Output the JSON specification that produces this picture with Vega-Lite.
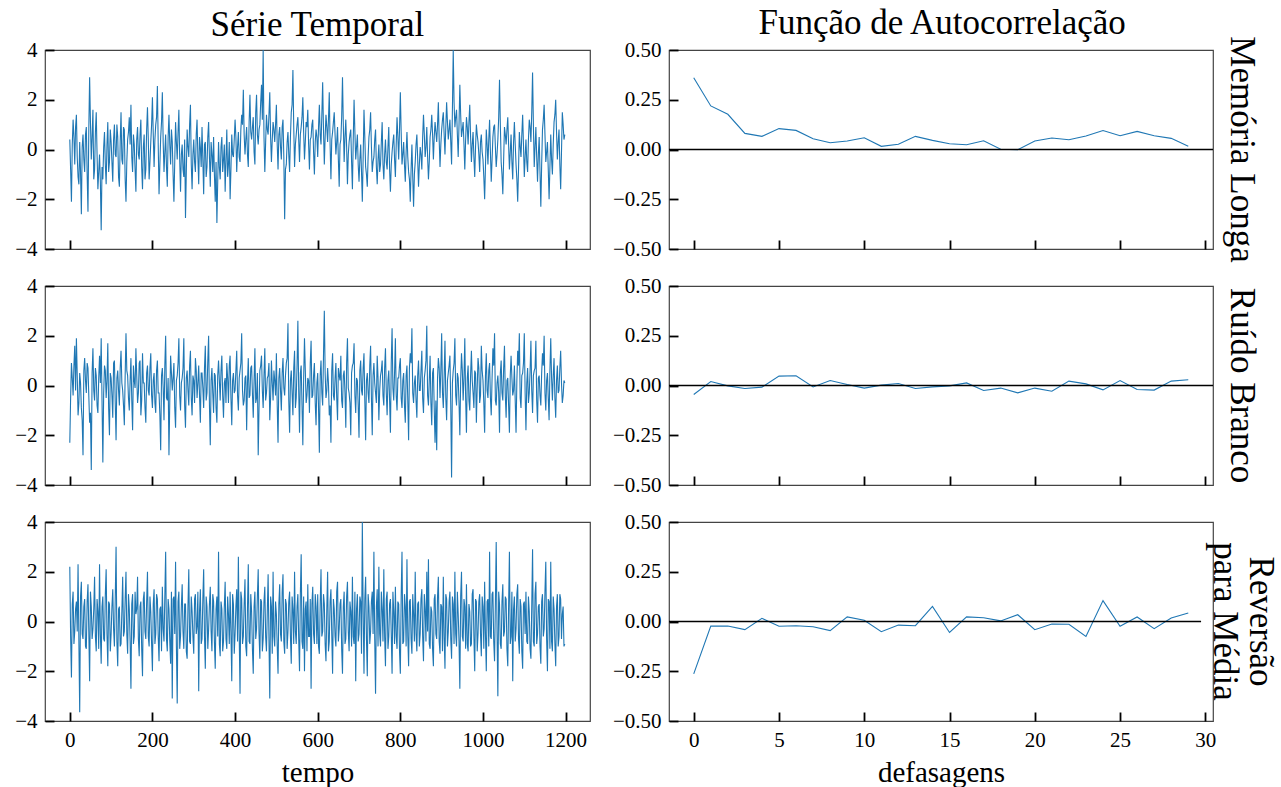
{
"$schema": "https://vega.github.io/schema/vega-lite/v6.json",
"background": "white",
"padding": {"left": 14, "top": 5, "right": 3, "bottom": 1},
"config": {
  "font": "Liberation Serif",
  "view": {"stroke": "#444", "strokeWidth": 1.2},
  "axis": {"domain": false, "grid": false, "ticks": true, "tickSize": -9, "tickWidth": 1.8, "tickColor": "black", "labelFont": "Liberation Serif", "labelFontSize": 21, "labelColor": "black", "labelPadding": 17, "labelFlush": false, "labelOverlap": false, "titleFont": "Liberation Serif", "titleFontSize": 29, "titleFontWeight": "normal", "titleColor": "black", "titlePadding": 8},
  "title": {"font": "Liberation Serif", "fontSize": 35, "fontWeight": "normal", "color": "black", "anchor": "middle"}
},
"datasets": {
"ts": [
{"t":0,"a":0.4,"b":-2.3,"c":2.2},{"t":4,"a":-2.1,"b":0.9,"c":-2.25},{"t":8,"a":1.2,"b":-0.4,"c":1.2},{"t":12,"a":-0.6,"b":1.6,"c":-0.4},{"t":16,"a":1.4,"b":1.9,"c":0.8},{"t":20,"a":-1.1,"b":-1.2,"c":2.3},{"t":24,"a":0.3,"b":0.5,"c":-3.65},{"t":28,"a":-2.6,"b":-0.9,"c":1.6},{"t":32,"a":0.6,"b":-2.8,"c":-0.7},{"t":36,"a":-0.9,"b":1.1,"c":0.9},
{"t":40,"a":0.9,"b":-0.3,"c":-1.1},{"t":44,"a":-2.5,"b":0.7,"c":1.5},{"t":48,"a":2.9,"b":-1.5,"c":-2.4},{"t":52,"a":-0.4,"b":-3.4,"c":0.6},{"t":56,"a":1.6,"b":1.5,"c":-0.3},{"t":60,"a":-0.8,"b":-0.6,"c":1.8},{"t":64,"a":1.5,"b":0.4,"c":-1.2},{"t":68,"a":-1.6,"b":-1.1,"c":0.4},{"t":72,"a":-0.2,"b":1.2,"c":2.3},{"t":76,"a":-3.25,"b":1.9,"c":-1.7},
{"t":80,"a":-1.2,"b":-3.1,"c":1.0},{"t":84,"a":0.7,"b":0.8,"c":-0.8},{"t":88,"a":-1.4,"b":-0.5,"c":2.1},{"t":92,"a":1.1,"b":1.7,"c":-1.8},{"t":96,"a":-0.5,"b":-2.0,"c":0.7},{"t":100,"a":0.3,"b":0.3,"c":-0.5},{"t":104,"a":-1.3,"b":-1.3,"c":1.3},{"t":108,"a":1.0,"b":1.0,"c":-1.0},{"t":112,"a":-0.3,"b":-2.2,"c":3.0},{"t":116,"a":0.5,"b":0.6,"c":-1.8},
{"t":120,"a":-1.5,"b":-0.8,"c":0.6},{"t":124,"a":1.5,"b":1.4,"c":-0.9},{"t":128,"a":-0.6,"b":-0.2,"c":1.8},{"t":132,"a":0.8,"b":-1.6,"c":-0.4},{"t":136,"a":-2.1,"b":2.1,"c":2.0},{"t":140,"a":0.4,"b":0.4,"c":-1.3},{"t":144,"a":1.3,"b":-1.0,"c":0.5},{"t":148,"a":1.8,"b":1.1,"c":-2.7},{"t":152,"a":-0.9,"b":-1.8,"c":1.1},{"t":156,"a":0.2,"b":0.2,"c":-0.6},
{"t":160,"a":-1.7,"b":1.5,"c":0.3},{"t":164,"a":0.9,"b":-0.7,"c":1.8},{"t":168,"a":-0.4,"b":0.9,"c":-1.4},{"t":172,"a":1.2,"b":-1.2,"c":0.8},{"t":176,"a":-1.6,"b":1.3,"c":-2.2},{"t":180,"a":0.6,"b":0.1,"c":1.2},{"t":184,"a":-0.8,"b":-1.5,"c":-0.7},{"t":188,"a":1.7,"b":0.8,"c":2.0},{"t":192,"a":-1.2,"b":-0.4,"c":-1.0},{"t":196,"a":0.3,"b":1.3,"c":0.4},
{"t":200,"a":2.1,"b":-0.9,"c":-2.0},{"t":204,"a":-0.7,"b":0.5,"c":1.3},{"t":208,"a":1.0,"b":-1.1,"c":-0.5},{"t":212,"a":2.55,"b":1.0,"c":0.9},{"t":216,"a":-1.8,"b":-0.3,"c":-1.6},{"t":220,"a":0.5,"b":-2.6,"c":0.6},{"t":224,"a":2.3,"b":0.7,"c":1.4},{"t":228,"a":-0.9,"b":-1.4,"c":-0.8},{"t":232,"a":0.6,"b":2.0,"c":2.8},{"t":236,"a":-1.5,"b":-0.6,"c":-1.2},
{"t":240,"a":1.4,"b":-2.8,"c":0.5},{"t":244,"a":-0.6,"b":1.2,"c":-1.7},{"t":248,"a":0.3,"b":-0.2,"c":-3.1},{"t":252,"a":-2.1,"b":0.9,"c":1.0},{"t":256,"a":1.1,"b":-1.7,"c":2.4},{"t":260,"a":-0.4,"b":0.4,"c":-3.3},{"t":264,"a":1.6,"b":1.9,"c":1.2},{"t":268,"a":-1.7,"b":-1.0,"c":-0.6},{"t":272,"a":0.2,"b":0.3,"c":1.5},{"t":276,"a":-1.1,"b":1.9,"c":-1.1},
{"t":280,"a":-2.75,"b":-1.7,"c":0.7},{"t":284,"a":0.8,"b":0.6,"c":-1.5},{"t":288,"a":-0.3,"b":-0.8,"c":2.1},{"t":292,"a":1.8,"b":1.4,"c":-0.9},{"t":296,"a":-1.6,"b":-1.2,"c":0.4},{"t":300,"a":0.4,"b":0.2,"c":-1.3},{"t":304,"a":-0.9,"b":1.1,"c":1.1},{"t":308,"a":1.2,"b":-0.5,"c":-0.2},{"t":312,"a":-1.4,"b":0.8,"c":-2.8},{"t":316,"a":0.1,"b":-1.5,"c":1.3},
{"t":320,"a":0.9,"b":0.5,"c":-0.7},{"t":324,"a":-1.8,"b":-0.9,"c":2.1},{"t":328,"a":0.3,"b":1.6,"c":-1.9},{"t":332,"a":-0.7,"b":-0.3,"c":0.6},{"t":336,"a":1.1,"b":2.0,"c":-0.3},{"t":340,"a":-1.5,"b":-2.4,"c":1.4},{"t":344,"a":-0.2,"b":0.7,"c":-1.2},{"t":348,"a":0.5,"b":-1.1,"c":0.8},{"t":352,"a":-2.1,"b":0.4,"c":-1.9},{"t":356,"a":-2.95,"b":-1.5,"c":1.0},
{"t":360,"a":0.3,"b":1.0,"c":2.8},{"t":364,"a":-1.2,"b":-0.6,"c":-1.4},{"t":368,"a":0.5,"b":1.2,"c":0.5},{"t":372,"a":-0.4,"b":-1.3,"c":-0.8},{"t":376,"a":-1.7,"b":0.3,"c":1.6},{"t":380,"a":0.8,"b":0.9,"c":-1.1},{"t":384,"a":-0.6,"b":-0.7,"c":0.3},{"t":388,"a":-2.0,"b":1.2,"c":1.2},{"t":392,"a":0.6,"b":-1.6,"c":-2.4},{"t":396,"a":-0.3,"b":0.5,"c":0.7},
{"t":400,"a":1.2,"b":-0.2,"c":-0.5},{"t":404,"a":-0.9,"b":1.4,"c":1.3},{"t":408,"a":0.7,"b":-1.0,"c":2.6},{"t":412,"a":-0.5,"b":0.6,"c":-2.9},{"t":416,"a":1.4,"b":2.1,"c":0.9},{"t":420,"a":2.4,"b":-0.8,"c":-0.6},{"t":424,"a":-0.2,"b":0.3,"c":1.7},{"t":428,"a":0.9,"b":-1.8,"c":-1.4},{"t":432,"a":-0.7,"b":1.1,"c":2.3},{"t":436,"a":2.2,"b":-0.4,"c":-0.9},
{"t":440,"a":0.4,"b":0.8,"c":0.4},{"t":444,"a":1.3,"b":-1.3,"c":-2.1},{"t":448,"a":-0.6,"b":1.5,"c":1.2},{"t":452,"a":2.2,"b":-0.5,"c":-0.3},{"t":456,"a":0.2,"b":-2.8,"c":2.1},{"t":460,"a":1.0,"b":0.6,"c":-1.5},{"t":464,"a":2.6,"b":1.2,"c":0.8},{"t":468,"a":4.0,"b":-0.9,"c":-0.7},{"t":472,"a":-0.9,"b":1.5,"c":1.4},{"t":476,"a":1.4,"b":-0.3,"c":-1.2},
{"t":480,"a":0.6,"b":0.4,"c":1.9},{"t":484,"a":2.3,"b":-1.4,"c":-3.1},{"t":488,"a":-0.5,"b":1.0,"c":0.6},{"t":492,"a":1.1,"b":-0.6,"c":2.0},{"t":496,"a":0.3,"b":0.2,"c":-1.0},{"t":500,"a":1.8,"b":1.3,"c":0.3},{"t":504,"a":-0.8,"b":-2.3,"c":-2.1},{"t":508,"a":0.9,"b":0.7,"c":1.5},{"t":512,"a":-0.4,"b":-1.0,"c":-0.8},{"t":516,"a":1.2,"b":1.1,"c":1.9},
{"t":520,"a":-2.8,"b":-0.4,"c":-1.3},{"t":524,"a":-0.6,"b":0.9,"c":0.7},{"t":528,"a":0.7,"b":2.5,"c":-0.4},{"t":532,"a":-0.9,"b":-1.9,"c":1.2},{"t":536,"a":1.5,"b":0.6,"c":-1.7},{"t":540,"a":3.2,"b":-1.2,"c":0.5},{"t":544,"a":-0.7,"b":1.4,"c":2.0},{"t":548,"a":0.6,"b":-0.5,"c":-0.9},{"t":552,"a":1.3,"b":2.6,"c":1.1},{"t":556,"a":-0.5,"b":-1.9,"c":-2.0},
{"t":560,"a":0.9,"b":0.8,"c":2.7},{"t":564,"a":2.1,"b":-2.4,"c":-1.1},{"t":568,"a":-0.4,"b":1.9,"c":-2.0},{"t":572,"a":1.1,"b":-0.7,"c":0.8},{"t":576,"a":1.6,"b":0.3,"c":1.5},{"t":580,"a":-0.8,"b":-1.1,"c":-0.6},{"t":584,"a":0.5,"b":1.8,"c":-2.7},{"t":588,"a":1.2,"b":-0.4,"c":1.4},{"t":592,"a":-1.0,"b":0.9,"c":-0.9},{"t":596,"a":0.8,"b":-1.6,"c":0.6},
{"t":600,"a":-0.3,"b":0.5,"c":1.1},{"t":604,"a":1.8,"b":-2.7,"c":-1.3},{"t":608,"a":0.2,"b":1.0,"c":2.1},{"t":612,"a":2.7,"b":-0.8,"c":-0.4},{"t":616,"a":-0.6,"b":3.0,"c":0.7},{"t":620,"a":1.4,"b":-0.5,"c":-1.6},{"t":624,"a":0.3,"b":0.7,"c":2.0},{"t":628,"a":2.3,"b":-1.2,"c":-0.8},{"t":632,"a":-1.2,"b":-2.3,"c":1.3},{"t":636,"a":0.7,"b":1.3,"c":-2.1},
{"t":640,"a":1.5,"b":-0.6,"c":0.5},{"t":644,"a":-0.2,"b":0.9,"c":-1.0},{"t":648,"a":0.9,"b":-1.4,"c":1.6},{"t":652,"a":-1.5,"b":0.4,"c":-0.3},{"t":656,"a":0.4,"b":1.2,"c":0.9},{"t":660,"a":2.9,"b":-0.9,"c":-2.1},{"t":664,"a":-0.5,"b":0.6,"c":1.2},{"t":668,"a":1.2,"b":-1.7,"c":-0.7},{"t":672,"a":-1.4,"b":1.9,"c":1.6},{"t":676,"a":0.3,"b":-0.3,"c":-1.2},
{"t":680,"a":0.8,"b":-2.0,"c":0.4},{"t":684,"a":-1.6,"b":0.8,"c":1.8},{"t":688,"a":2.0,"b":1.7,"c":-0.9},{"t":692,"a":-0.4,"b":-1.1,"c":-2.4},{"t":696,"a":0.6,"b":0.2,"c":1.1},{"t":700,"a":-1.3,"b":-2.1,"c":-0.5},{"t":704,"a":0.2,"b":1.0,"c":0.8},{"t":708,"a":-2.1,"b":-0.4,"c":4.0},{"t":712,"a":1.6,"b":1.3,"c":-2.1},{"t":716,"a":-0.7,"b":-2.2,"c":1.8},
{"t":720,"a":-1.5,"b":0.5,"c":-2.2},{"t":724,"a":0.5,"b":-0.7,"c":0.6},{"t":728,"a":1.5,"b":1.6,"c":-0.4},{"t":732,"a":-0.9,"b":-2.0,"c":1.2},{"t":736,"a":-0.3,"b":0.9,"c":2.8},{"t":740,"a":0.8,"b":-0.3,"c":-2.9},{"t":744,"a":-1.4,"b":1.2,"c":1.3},{"t":748,"a":0.2,"b":-1.4,"c":2.2},{"t":752,"a":-0.6,"b":0.4,"c":-1.0},{"t":756,"a":1.1,"b":1.0,"c":0.5},
{"t":760,"a":-1.2,"b":-0.8,"c":2.1},{"t":764,"a":0.4,"b":1.5,"c":-1.8},{"t":768,"a":-0.8,"b":-1.2,"c":1.2},{"t":772,"a":0.9,"b":0.6,"c":-0.6},{"t":776,"a":-1.7,"b":-1.9,"c":0.9},{"t":780,"a":-0.1,"b":2.3,"c":-2.1},{"t":784,"a":0.6,"b":-0.6,"c":0.4},{"t":788,"a":-1.1,"b":1.9,"c":1.4},{"t":792,"a":1.3,"b":-1.0,"c":-1.1},{"t":796,"a":-0.4,"b":0.3,"c":0.7},
{"t":800,"a":2.3,"b":1.1,"c":-2.1},{"t":804,"a":-0.6,"b":-0.9,"c":2.8},{"t":808,"a":0.3,"b":0.5,"c":-0.8},{"t":812,"a":-1.3,"b":-1.5,"c":0.6},{"t":816,"a":0.7,"b":0.8,"c":2.5},{"t":820,"a":-0.9,"b":-2.2,"c":-1.8},{"t":824,"a":-2.1,"b":1.3,"c":0.9},{"t":828,"a":0.2,"b":2.3,"c":-1.3},{"t":832,"a":-2.3,"b":-0.7,"c":0.3},{"t":836,"a":-0.5,"b":0.4,"c":2.0},
{"t":840,"a":0.6,"b":-1.3,"c":-1.2},{"t":844,"a":-1.5,"b":1.0,"c":0.8},{"t":848,"a":0.1,"b":-0.2,"c":-0.5},{"t":852,"a":-0.8,"b":1.4,"c":1.3},{"t":856,"a":1.4,"b":-1.1,"c":-1.6},{"t":860,"a":-0.3,"b":0.6,"c":0.5},{"t":864,"a":0.9,"b":2.4,"c":2.0},{"t":868,"a":-1.2,"b":-0.8,"c":2.5},{"t":872,"a":0.5,"b":1.2,"c":-1.1},{"t":876,"a":1.4,"b":-1.6,"c":0.4},
{"t":880,"a":-0.4,"b":0.7,"c":-1.8},{"t":884,"a":1.1,"b":-2.3,"c":1.1},{"t":888,"a":0.3,"b":-2.6,"c":-0.7},{"t":892,"a":1.9,"b":1.1,"c":1.8},{"t":896,"a":-0.7,"b":-0.5,"c":-1.3},{"t":900,"a":0.8,"b":2.1,"c":0.6},{"t":904,"a":1.5,"b":-0.9,"c":1.8},{"t":908,"a":-0.2,"b":1.8,"c":-1.9},{"t":912,"a":1.9,"b":-1.4,"c":0.9},{"t":916,"a":0.4,"b":0.5,"c":-0.4},
{"t":920,"a":1.2,"b":1.2,"c":1.2},{"t":924,"a":-0.6,"b":-3.7,"c":-1.5},{"t":928,"a":4.0,"b":0.6,"c":0.7},{"t":932,"a":0.9,"b":1.9,"c":2.0},{"t":936,"a":1.6,"b":-0.8,"c":-1.0},{"t":940,"a":-0.3,"b":0.3,"c":0.3},{"t":944,"a":2.6,"b":-2.0,"c":-2.7},{"t":948,"a":0.5,"b":1.3,"c":2.0},{"t":952,"a":1.1,"b":-0.6,"c":-0.8},{"t":956,"a":-0.8,"b":1.9,"c":0.6},
{"t":960,"a":1.3,"b":-1.9,"c":1.5},{"t":964,"a":0.2,"b":0.8,"c":-1.2},{"t":968,"a":1.8,"b":-1.0,"c":0.4},{"t":972,"a":-0.5,"b":1.4,"c":-0.9},{"t":976,"a":0.7,"b":-0.3,"c":1.3},{"t":980,"a":-1.1,"b":0.6,"c":-2.0},{"t":984,"a":1.0,"b":-1.5,"c":0.8},{"t":988,"a":0.3,"b":1.1,"c":-0.5},{"t":992,"a":-0.9,"b":-0.7,"c":1.1},{"t":996,"a":0.6,"b":1.6,"c":-1.4},
{"t":1000,"a":-0.4,"b":0.2,"c":0.6},{"t":1004,"a":-2.0,"b":-1.9,"c":1.6},{"t":1008,"a":0.8,"b":1.3,"c":-2.0},{"t":1012,"a":-0.6,"b":-0.5,"c":0.9},{"t":1016,"a":1.2,"b":0.9,"c":2.8},{"t":1020,"a":-1.3,"b":-1.2,"c":-0.7},{"t":1024,"a":0.5,"b":1.5,"c":1.2},{"t":1028,"a":1.0,"b":2.1,"c":-1.6},{"t":1032,"a":-0.7,"b":-0.8,"c":3.2},{"t":1036,"a":0.4,"b":0.4,"c":-3.0},
{"t":1040,"a":2.8,"b":-1.9,"c":0.7},{"t":1044,"a":-0.5,"b":1.0,"c":-1.1},{"t":1048,"a":-1.8,"b":-0.6,"c":1.5},{"t":1052,"a":0.9,"b":1.6,"c":-0.4},{"t":1056,"a":0.2,"b":-1.3,"c":0.9},{"t":1060,"a":1.3,"b":0.3,"c":-1.8},{"t":1064,"a":-0.8,"b":-1.9,"c":2.8},{"t":1068,"a":0.6,"b":1.2,"c":-0.6},{"t":1072,"a":-1.2,"b":-0.4,"c":-2.4},{"t":1076,"a":1.1,"b":0.8,"c":1.0},
{"t":1080,"a":-0.6,"b":-1.9,"c":-0.3},{"t":1084,"a":-2.1,"b":1.4,"c":1.5},{"t":1088,"a":0.7,"b":2.1,"c":-1.3},{"t":1092,"a":-0.3,"b":-0.9,"c":0.6},{"t":1096,"a":1.4,"b":0.5,"c":-1.9},{"t":1100,"a":-1.1,"b":2.1,"c":0.8},{"t":1104,"a":0.4,"b":-1.8,"c":1.2},{"t":1108,"a":-0.9,"b":0.7,"c":-0.9},{"t":1112,"a":1.2,"b":-0.3,"c":0.4},{"t":1116,"a":0.3,"b":1.8,"c":-1.5},
{"t":1120,"a":3.1,"b":-1.1,"c":2.9},{"t":1124,"a":-0.7,"b":0.6,"c":-1.0},{"t":1128,"a":0.9,"b":1.8,"c":1.6},{"t":1132,"a":-1.3,"b":-1.5,"c":-0.5},{"t":1136,"a":0.5,"b":0.4,"c":0.7},{"t":1140,"a":-2.3,"b":-0.8,"c":-1.7},{"t":1144,"a":0.8,"b":1.3,"c":1.1},{"t":1148,"a":1.8,"b":2.0,"c":-0.3},{"t":1152,"a":-0.5,"b":-1.0,"c":2.4},{"t":1156,"a":0.3,"b":0.5,"c":-2.0},
{"t":1160,"a":-2.0,"b":-1.4,"c":0.8},{"t":1164,"a":0.6,"b":1.9,"c":2.4},{"t":1168,"a":-1.0,"b":-0.6,"c":-1.2},{"t":1172,"a":1.1,"b":1.1,"c":0.5},{"t":1176,"a":2.0,"b":-1.3,"c":-1.8},{"t":1180,"a":-0.4,"b":0.8,"c":1.1},{"t":1184,"a":0.8,"b":-0.2,"c":-0.6},{"t":1188,"a":-1.6,"b":1.4,"c":0.9},{"t":1192,"a":1.5,"b":-0.7,"c":0.3},{"t":1196,"a":0.4,"b":0.2,"c":-1.0},
{"t":2,"a":-0.8,"b":-0.5,"c":-0.6},{"t":6,"a":0.2,"b":0.3,"c":0.7},{"t":10,"a":0.5,"b":0.8,"c":-0.9},{"t":14,"a":0.9,"b":-0.2,"c":0.5},{"t":18,"a":-0.3,"b":0.4,"c":-0.4},{"t":22,"a":-1.4,"b":-0.7,"c":-0.8},{"t":26,"a":-0.9,"b":0.1,"c":1.0},{"t":30,"a":0.1,"b":-1.4,"c":-0.5},{"t":34,"a":-0.4,"b":0.6,"c":0.6},{"t":38,"a":0.6,"b":0.2,"c":-1.0},
{"t":42,"a":-1.0,"b":0.9,"c":0.8},{"t":46,"a":0.8,"b":-0.4,"c":-0.4},{"t":50,"a":1.1,"b":-1.1,"c":1.2},{"t":54,"a":0.5,"b":0.5,"c":-0.7},{"t":58,"a":-1.2,"b":-0.2,"c":0.5},{"t":62,"a":0.7,"b":0.7,"c":-0.6},{"t":66,"a":-0.2,"b":-0.8,"c":0.9},{"t":70,"a":-0.9,"b":0.3,"c":-1.1},{"t":74,"a":-1.3,"b":0.1,"c":-0.5},{"t":78,"a":-0.7,"b":-0.6,"c":0.6},
{"t":82,"a":0.1,"b":-0.3,"c":-0.7},{"t":86,"a":-0.6,"b":0.6,"c":1.1},{"t":90,"a":0.2,"b":0.2,"c":-0.5},{"t":94,"a":-0.9,"b":-0.9,"c":0.8},{"t":98,"a":0.8,"b":0.5,"c":-1.2},{"t":102,"a":-0.5,"b":-0.4,"c":0.6},{"t":106,"a":0.4,"b":0.9,"c":-0.3},{"t":110,"a":-0.2,"b":-0.7,"c":0.9},{"t":114,"a":1.0,"b":0.3,"c":-0.8},{"t":118,"a":-1.1,"b":-0.2,"c":0.5},
{"t":122,"a":0.3,"b":0.7,"c":-1.0},{"t":126,"a":-0.4,"b":0.1,"c":0.4},{"t":130,"a":0.9,"b":-0.8,"c":-0.6},{"t":134,"a":-1.2,"b":0.4,"c":0.9},{"t":138,"a":-0.5,"b":0.6,"c":-0.5},{"t":142,"a":0.7,"b":-0.5,"c":1.1},{"t":146,"a":0.2,"b":0.2,"c":-0.8},{"t":150,"a":-0.3,"b":-0.6,"c":0.7},{"t":154,"a":0.6,"b":0.8,"c":-0.9},{"t":158,"a":-0.8,"b":-0.1,"c":1.2},
{"t":162,"a":0.4,"b":0.4,"c":0.5},{"t":166,"a":-0.2,"b":-0.3,"c":-0.7},{"t":170,"a":0.6,"b":1.0,"c":0.6},{"t":174,"a":-0.7,"b":-0.6,"c":-1.1},{"t":178,"a":0.1,"b":0.1,"c":0.9},{"t":182,"a":-1.2,"b":-0.9,"c":-0.4},{"t":186,"a":0.8,"b":0.5,"c":0.8},{"t":190,"a":0.4,"b":-0.2,"c":-0.6},{"t":194,"a":-0.5,"b":0.7,"c":1.0},{"t":198,"a":1.0,"b":-0.4,"c":-0.9},
{"t":202,"a":0.6,"b":0.2,"c":0.7},{"t":206,"a":0.4,"b":-0.7,"c":-0.9},{"t":210,"a":1.3,"b":0.6,"c":1.1},{"t":214,"a":0.2,"b":-0.3,"c":-0.6},{"t":218,"a":-0.6,"b":-1.2,"c":0.5},{"t":222,"a":1.1,"b":0.4,"c":-1.2},{"t":226,"a":0.3,"b":-0.1,"c":-0.3},{"t":230,"a":-0.1,"b":0.8,"c":1.0},{"t":234,"a":-0.7,"b":-0.5,"c":-0.7},{"t":238,"a":0.5,"b":0.3,"c":0.9},
{"t":242,"a":0.2,"b":-0.6,"c":-0.8},{"t":246,"a":0.8,"b":0.5,"c":1.2},{"t":250,"a":-1.0,"b":0.3,"c":0.9},{"t":254,"a":-0.5,"b":-0.9,"c":-0.5},{"t":258,"a":0.3,"b":0.2,"c":-1.0},{"t":262,"a":0.7,"b":0.9,"c":0.8},{"t":266,"a":-0.4,"b":-0.4,"c":-1.1},{"t":270,"a":-0.2,"b":0.1,"c":0.6},{"t":274,"a":-0.8,"b":0.7,"c":-0.4},{"t":278,"a":0.4,"b":-0.8,"c":0.7},
{"t":282,"a":-0.9,"b":0.3,"c":-1.2},{"t":286,"a":0.1,"b":-0.2,"c":0.6},{"t":290,"a":1.0,"b":0.8,"c":-0.8},{"t":294,"a":-0.6,"b":-0.5,"c":1.0},{"t":298,"a":-0.2,"b":0.4,"c":-0.6},{"t":302,"a":-0.5,"b":-0.7,"c":0.9},{"t":306,"a":0.6,"b":0.6,"c":-0.5},{"t":310,"a":-0.3,"b":0.1,"c":1.2},{"t":314,"a":0.5,"b":-0.4,"c":0.4},{"t":318,"a":-0.7,"b":0.5,"c":-0.9},
{"t":322,"a":-0.4,"b":-0.1,"c":0.9},{"t":326,"a":0.2,"b":0.7,"c":-0.6},{"t":330,"a":-1.1,"b":-0.6,"c":1.0},{"t":334,"a":0.5,"b":1.0,"c":-1.1},{"t":338,"a":-0.3,"b":-0.8,"c":0.7},{"t":342,"a":0.3,"b":0.2,"c":-0.4},{"t":346,"a":-0.9,"b":-0.3,"c":1.1},{"t":350,"a":-1.0,"b":0.5,"c":-0.8},{"t":354,"a":-0.5,"b":-0.9,"c":0.5},{"t":358,"a":-1.3,"b":0.4,"c":-0.6},
{"t":362,"a":-0.7,"b":0.2,"c":-0.9},{"t":366,"a":0.1,"b":0.6,"c":0.8},{"t":370,"a":-0.9,"b":-0.4,"c":-1.2},{"t":374,"a":0.2,"b":0.1,"c":0.6},{"t":378,"a":-0.4,"b":-0.7,"c":-0.7},{"t":382,"a":-1.1,"b":0.3,"c":1.0},{"t":386,"a":0.3,"b":0.8,"c":-0.9},{"t":390,"a":-0.8,"b":-0.5,"c":-0.4},{"t":394,"a":-0.2,"b":0.2,"c":1.1},{"t":398,"a":0.4,"b":-0.3,"c":-1.3},
{"t":402,"a":0.5,"b":0.6,"c":0.6},{"t":406,"a":0.1,"b":-0.4,"c":-0.8},{"t":410,"a":-0.3,"b":0.3,"c":-0.5},{"t":414,"a":0.8,"b":0.9,"c":1.2},{"t":418,"a":1.0,"b":-0.2,"c":-0.9},{"t":422,"a":0.6,"b":-0.6,"c":0.7},{"t":426,"a":0.4,"b":0.4,"c":-1.0},{"t":430,"a":-0.2,"b":0.1,"c":0.5},{"t":434,"a":1.1,"b":-0.5,"c":-0.8},{"t":438,"a":0.7,"b":0.7,"c":1.1},
{"t":442,"a":0.9,"b":-0.3,"c":-1.1},{"t":446,"a":-0.1,"b":0.2,"c":0.6},{"t":450,"a":1.5,"b":-0.7,"c":-0.7},{"t":454,"a":0.6,"b":0.5,"c":1.0},{"t":458,"a":0.8,"b":-0.9,"c":-0.5},{"t":462,"a":1.9,"b":0.8,"c":0.9},{"t":466,"a":1.2,"b":-0.2,"c":-1.2},{"t":470,"a":0.5,"b":0.4,"c":0.8},{"t":474,"a":0.3,"b":-0.6,"c":-0.6},{"t":478,"a":0.8,"b":0.3,"c":0.4},
{"t":482,"a":1.4,"b":0.9,"c":-0.7},{"t":486,"a":0.5,"b":-0.5,"c":1.0},{"t":490,"a":0.4,"b":0.1,"c":-1.3},{"t":494,"a":0.8,"b":0.6,"c":-0.6},{"t":498,"a":1.0,"b":-0.4,"c":0.8},{"t":502,"a":0.2,"b":-0.8,"c":-1.0},{"t":506,"a":0.6,"b":0.3,"c":0.7},{"t":510,"a":0.1,"b":-0.2,"c":-0.5},{"t":514,"a":0.9,"b":0.5,"c":1.2},{"t":518,"a":-0.3,"b":-0.1,"c":-0.8},
{"t":522,"a":-0.8,"b":0.4,"c":0.9},{"t":526,"a":0.3,"b":1.1,"c":-1.1},{"t":530,"a":-0.2,"b":-0.6,"c":0.8},{"t":534,"a":0.5,"b":0.2,"c":-0.6},{"t":538,"a":1.8,"b":-0.3,"c":1.0},{"t":542,"a":0.9,"b":0.7,"c":-0.9},{"t":546,"a":0.2,"b":-0.9,"c":-0.4},{"t":550,"a":1.0,"b":0.8,"c":0.6},{"t":554,"a":0.4,"b":-0.2,"c":-0.7},{"t":558,"a":0.6,"b":0.5,"c":1.1},
{"t":562,"a":1.3,"b":-0.8,"c":-0.8},{"t":566,"a":0.7,"b":0.3,"c":1.0},{"t":570,"a":0.3,"b":0.6,"c":0.5},{"t":574,"a":0.9,"b":-0.4,"c":-1.2},{"t":578,"a":0.2,"b":0.2,"c":-0.6},{"t":582,"a":0.4,"b":0.9,"c":0.9},{"t":586,"a":1.0,"b":-0.5,"c":0.7},{"t":590,"a":-0.1,"b":0.4,"c":-0.5},{"t":594,"a":0.3,"b":-0.7,"c":1.1},{"t":598,"a":0.5,"b":0.1,"c":-0.9},
{"t":602,"a":0.9,"b":-0.9,"c":-1.0},{"t":606,"a":0.6,"b":0.4,"c":0.7},{"t":610,"a":1.4,"b":-0.3,"c":-0.6},{"t":614,"a":0.8,"b":1.2,"c":1.1},{"t":618,"a":0.5,"b":0.5,"c":-0.9},{"t":622,"a":0.9,"b":-0.2,"c":0.5},{"t":626,"a":1.2,"b":0.1,"c":-1.2},{"t":630,"a":0.2,"b":-0.8,"c":0.8},{"t":634,"a":0.4,"b":0.6,"c":-0.5},{"t":638,"a":1.1,"b":-0.4,"c":0.9},
{"t":642,"a":0.6,"b":0.3,"c":-0.6},{"t":646,"a":0.3,"b":-0.5,"c":1.2},{"t":650,"a":-0.4,"b":0.7,"c":-0.8},{"t":654,"a":0.2,"b":0.2,"c":0.7},{"t":658,"a":1.3,"b":-0.6,"c":-1.1},{"t":662,"a":1.0,"b":0.4,"c":0.6},{"t":666,"a":0.5,"b":-0.3,"c":-0.9},{"t":670,"a":0.1,"b":0.9,"c":1.0},{"t":674,"a":-0.2,"b":-0.1,"c":-0.4},{"t":678,"a":0.6,"b":-0.7,"c":0.8},
{"t":682,"a":-0.5,"b":0.5,"c":-1.0},{"t":686,"a":0.4,"b":0.9,"c":-0.6},{"t":690,"a":0.7,"b":-0.4,"c":1.2},{"t":694,"a":0.1,"b":0.3,"c":0.5},{"t":698,"a":-0.6,"b":-0.8,"c":-0.8},{"t":702,"a":-0.4,"b":0.6,"c":1.0},{"t":706,"a":-0.9,"b":-0.2,"c":-1.3},{"t":710,"a":-0.3,"b":0.7,"c":0.4},{"t":714,"a":0.5,"b":-0.6,"c":0.9},{"t":718,"a":-1.0,"b":0.2,"c":-0.7},
{"t":722,"a":-0.3,"b":-0.3,"c":1.1},{"t":726,"a":0.8,"b":0.8,"c":-0.9},{"t":730,"a":0.1,"b":-0.5,"c":0.8},{"t":734,"a":-0.5,"b":0.4,"c":-0.5},{"t":738,"a":0.4,"b":0.1,"c":-0.7},{"t":742,"a":-0.7,"b":-0.7,"c":0.6},{"t":746,"a":-0.4,"b":0.3,"c":-1.0},{"t":750,"a":-0.9,"b":-0.2,"c":-0.5},{"t":754,"a":0.3,"b":0.6,"c":1.2},{"t":758,"a":-0.6,"b":-0.4,"c":-0.8},
{"t":762,"a":-0.2,"b":0.7,"c":-0.6},{"t":766,"a":-0.5,"b":-0.3,"c":0.9},{"t":770,"a":0.1,"b":0.2,"c":-1.1},{"t":774,"a":-0.8,"b":-0.6,"c":0.7},{"t":778,"a":-0.6,"b":0.9,"c":-0.5},{"t":782,"a":0.3,"b":-0.1,"c":1.2},{"t":786,"a":-0.4,"b":0.5,"c":-0.9},{"t":790,"a":0.2,"b":-0.4,"c":-0.6},{"t":794,"a":0.5,"b":0.3,"c":0.8},{"t":798,"a":0.8,"b":0.8,"c":-1.2},
{"t":802,"a":0.7,"b":-0.5,"c":1.0},{"t":806,"a":-0.2,"b":0.2,"c":-0.9},{"t":810,"a":-0.6,"b":-0.8,"c":1.1},{"t":814,"a":-0.1,"b":0.4,"c":-1.0},{"t":818,"a":-0.3,"b":-0.6,"c":-0.6},{"t":822,"a":-1.2,"b":0.7,"c":0.8},{"t":826,"a":-0.8,"b":0.9,"c":-0.7},{"t":830,"a":-1.1,"b":-0.3,"c":1.1},{"t":834,"a":-1.0,"b":0.1,"c":-0.8},{"t":838,"a":0.2,"b":-0.6,"c":-0.5},
{"t":842,"a":-0.4,"b":0.4,"c":0.7},{"t":846,"a":-0.6,"b":-0.2,"c":-1.0},{"t":850,"a":-0.2,"b":0.6,"c":0.9},{"t":854,"a":0.5,"b":-0.5,"c":-0.6},{"t":858,"a":0.6,"b":0.3,"c":1.1},{"t":862,"a":0.1,"b":1.0,"c":-0.8},{"t":866,"a":-0.3,"b":-0.4,"c":-0.4},{"t":870,"a":-0.5,"b":0.2,"c":-0.9},{"t":874,"a":0.8,"b":-0.7,"c":0.6},{"t":878,"a":0.6,"b":0.5,"c":-1.1},
{"t":882,"a":0.5,"b":-0.9,"c":0.9},{"t":886,"a":0.7,"b":-0.6,"c":-0.5},{"t":890,"a":1.0,"b":0.3,"c":1.0},{"t":894,"a":0.4,"b":0.7,"c":-0.8},{"t":898,"a":0.2,"b":0.6,"c":0.7},{"t":902,"a":1.2,"b":-0.3,"c":-1.2},{"t":906,"a":0.6,"b":0.4,"c":-0.6},{"t":910,"a":0.9,"b":-0.5,"c":1.1},{"t":914,"a":1.1,"b":0.2,"c":-1.0},{"t":918,"a":0.8,"b":0.8,"c":0.8},
{"t":922,"a":0.3,"b":-0.8,"c":-0.7},{"t":926,"a":1.6,"b":0.1,"c":1.0},{"t":930,"a":1.9,"b":0.9,"c":-0.9},{"t":934,"a":1.3,"b":-0.4,"c":-0.5},{"t":938,"a":0.6,"b":0.5,"c":1.2},{"t":942,"a":1.0,"b":-0.7,"c":-0.8},{"t":946,"a":1.4,"b":0.2,"c":1.0},{"t":950,"a":0.8,"b":0.6,"c":-0.6},{"t":954,"a":0.2,"b":0.3,"c":0.9},{"t":958,"a":0.4,"b":-0.5,"c":-1.1},
{"t":962,"a":0.9,"b":0.3,"c":-0.9},{"t":966,"a":1.1,"b":-0.6,"c":0.7},{"t":970,"a":0.5,"b":0.4,"c":-1.0},{"t":974,"a":0.2,"b":0.2,"c":1.1},{"t":978,"a":-0.3,"b":-0.9,"c":-0.6},{"t":982,"a":0.1,"b":0.5,"c":0.9},{"t":986,"a":0.6,"b":-0.1,"c":-1.2},{"t":990,"a":-0.2,"b":0.7,"c":0.8},{"t":994,"a":0.3,"b":-0.4,"c":-0.5},{"t":998,"a":-0.1,"b":0.6,"c":1.0},
{"t":1002,"a":-1.1,"b":-0.7,"c":-1.1},{"t":1006,"a":-0.7,"b":0.4,"c":-0.5},{"t":1010,"a":0.2,"b":-0.2,"c":0.8},{"t":1014,"a":0.4,"b":0.6,"c":-1.0},{"t":1018,"a":-0.1,"b":-0.5,"c":-0.6},{"t":1022,"a":-0.4,"b":0.3,"c":1.1},{"t":1026,"a":0.9,"b":0.8,"c":-0.8},{"t":1030,"a":0.1,"b":-0.6,"c":0.7},{"t":1034,"a":-0.2,"b":0.1,"c":-0.4},{"t":1038,"a":1.3,"b":-0.3,"c":1.2},
{"t":1042,"a":1.0,"b":0.5,"c":-0.9},{"t":1046,"a":-1.0,"b":-0.3,"c":0.8},{"t":1050,"a":-0.4,"b":0.7,"c":-0.6},{"t":1054,"a":0.6,"b":-0.4,"c":1.0},{"t":1058,"a":0.8,"b":0.2,"c":-1.1},{"t":1062,"a":0.2,"b":-0.8,"c":0.6},{"t":1066,"a":-0.1,"b":0.4,"c":-0.9},{"t":1070,"a":-0.5,"b":0.3,"c":1.2},{"t":1074,"a":0.3,"b":-0.2,"c":0.5},{"t":1078,"a":0.2,"b":-0.6,"c":-0.8},
{"t":1082,"a":-1.2,"b":0.2,"c":1.1},{"t":1086,"a":-0.8,"b":0.8,"c":-0.7},{"t":1090,"a":0.1,"b":-0.5,"c":0.9},{"t":1094,"a":0.6,"b":0.4,"c":-1.2},{"t":1098,"a":0.2,"b":0.9,"c":0.7},{"t":1102,"a":-0.3,"b":-0.3,"c":-0.5},{"t":1106,"a":-0.5,"b":0.1,"c":-0.8},{"t":1110,"a":0.4,"b":-0.7,"c":1.0},{"t":1114,"a":0.9,"b":0.6,"c":-1.1},{"t":1118,"a":1.5,"b":-0.2,"c":0.6},
{"t":1122,"a":1.0,"b":0.4,"c":-0.8},{"t":1126,"a":0.1,"b":0.7,"c":1.1},{"t":1130,"a":-0.3,"b":-0.6,"c":-0.9},{"t":1134,"a":-0.2,"b":0.3,"c":0.6},{"t":1138,"a":-0.9,"b":-0.4,"c":-1.0},{"t":1142,"a":-0.6,"b":0.5,"c":0.8},{"t":1146,"a":1.2,"b":0.8,"c":-0.6},{"t":1150,"a":0.6,"b":-0.3,"c":1.2},{"t":1154,"a":-0.1,"b":0.2,"c":-0.7},{"t":1158,"a":-0.8,"b":-0.5,"c":0.9},
{"t":1162,"a":-0.7,"b":0.6,"c":-1.1},{"t":1166,"a":-0.4,"b":0.3,"c":-0.8},{"t":1170,"a":0.2,"b":0.4,"c":1.0},{"t":1174,"a":1.4,"b":-0.5,"c":-0.9},{"t":1178,"a":0.7,"b":0.2,"c":0.6},{"t":1182,"a":0.3,"b":-0.3,"c":-1.0},{"t":1186,"a":-0.6,"b":0.7,"c":1.1},{"t":1190,"a":-0.1,"b":0.1,"c":-0.7},{"t":1194,"a":1.0,"b":-0.4,"c":0.6},{"t":1198,"a":0.6,"b":0.1,"c":-0.9}
],
"acf": [
{"lag":0,"a":0.361,"b":-0.045,"c":-0.263},{"lag":1,"a":0.219,"b":0.020,"c":-0.023},{"lag":2,"a":0.177,"b":-0.002,"c":-0.023},{"lag":3,"a":0.081,"b":-0.015,"c":-0.041},{"lag":4,"a":0.066,"b":-0.008,"c":0.016},{"lag":5,"a":0.105,"b":0.047,"c":-0.024},{"lag":6,"a":0.096,"b":0.049,"c":-0.021},{"lag":7,"a":0.054,"b":-0.007,"c":-0.026},{"lag":8,"a":0.034,"b":0.025,"c":-0.046},{"lag":9,"a":0.043,"b":0.005,"c":0.023},
{"lag":10,"a":0.059,"b":-0.013,"c":0.006},{"lag":11,"a":0.016,"b":0.002,"c":-0.051},{"lag":12,"a":0.026,"b":0.010,"c":-0.018},{"lag":13,"a":0.066,"b":-0.015,"c":-0.021},{"lag":14,"a":0.046,"b":-0.007,"c":0.076},{"lag":15,"a":0.029,"b":-0.002,"c":-0.055},{"lag":16,"a":0.024,"b":0.013,"c":0.023},{"lag":17,"a":0.044,"b":-0.025,"c":0.019},{"lag":18,"a":0.001,"b":-0.013,"c":0.003},{"lag":19,"a":-0.001,"b":-0.037,"c":0.034},
{"lag":20,"a":0.043,"b":-0.013,"c":-0.041},{"lag":21,"a":0.058,"b":-0.029,"c":-0.013},{"lag":22,"a":0.049,"b":0.022,"c":-0.014},{"lag":23,"a":0.068,"b":0.008,"c":-0.075},{"lag":24,"a":0.095,"b":-0.022,"c":0.105},{"lag":25,"a":0.069,"b":0.025,"c":-0.024},{"lag":26,"a":0.091,"b":-0.020,"c":0.023},{"lag":27,"a":0.069,"b":-0.023,"c":-0.036},{"lag":28,"a":0.056,"b":0.022,"c":0.018},{"lag":29,"a":0.016,"b":0.029,"c":0.043}
]
},
"hconcat": [
 {
  "title": {"text": "Série Temporal", "offset": -5, "dx": 15},
  "spacing": 37,
  "bounds": "flush",
  "vconcat": [
   {"width": 545, "height": 199, "data": {"name": "ts"},
    "mark": {"type": "line", "color": "#1f77b4", "strokeWidth": 1.1, "clip": true},
    "encoding": {
     "x": {"field": "t", "type": "quantitative", "scale": {"domain": [-60, 1259], "nice": false, "zero": false}, "axis": {"values": [0,200,400,600,800,1000,1200], "labels": false, "title": null}},
     "y": {"field": "a", "type": "quantitative", "scale": {"domain": [-4, 4], "nice": false}, "axis": {"values": [-4,-2,0,2,4], "title": null}}
    }},
   {"width": 545, "height": 199, "data": {"name": "ts"},
    "mark": {"type": "line", "color": "#1f77b4", "strokeWidth": 1.1, "clip": true},
    "encoding": {
     "x": {"field": "t", "type": "quantitative", "scale": {"domain": [-60, 1259], "nice": false, "zero": false}, "axis": {"values": [0,200,400,600,800,1000,1200], "labels": false, "title": null}},
     "y": {"field": "b", "type": "quantitative", "scale": {"domain": [-4, 4], "nice": false}, "axis": {"values": [-4,-2,0,2,4], "title": null}}
    }},
   {"width": 545, "height": 199, "data": {"name": "ts"},
    "mark": {"type": "line", "color": "#1f77b4", "strokeWidth": 1.1, "clip": true},
    "encoding": {
     "x": {"field": "t", "type": "quantitative", "scale": {"domain": [-60, 1259], "nice": false, "zero": false}, "axis": {"values": [0,200,400,600,800,1000,1200], "format": "d", "title": "tempo"}},
     "y": {"field": "c", "type": "quantitative", "scale": {"domain": [-4, 4], "nice": false}, "axis": {"values": [-4,-2,0,2,4], "title": null}}
    }}
  ]
 },
 {
  "title": {"text": "Função de Autocorrelação", "offset": -5, "dx": -3},
  "spacing": 37,
  "bounds": "flush",
  "vconcat": [
   {"width": 544, "height": 199,
    "title": {"text": "Memória Longa", "orient": "right", "anchor": "middle", "offset": 10, "fontSize": 35},
    "layer": [
     {"data": {"name": "acf"},
      "mark": {"type": "line", "color": "#1f77b4", "strokeWidth": 1.1},
      "encoding": {
       "x": {"field": "lag", "type": "quantitative", "scale": {"domain": [-1.45, 30.45], "nice": false, "zero": false}, "axis": {"values": [0,5,10,15,20,25,30], "labels": false, "title": null}},
       "y": {"field": "a", "type": "quantitative", "scale": {"domain": [-0.5, 0.5], "nice": false}, "axis": {"values": [-0.5,-0.25,0,0.25,0.5], "format": ".2f", "title": null}}
      }},
     {"data": {"values": [{}]},
      "mark": {"type": "rule", "color": "black", "strokeWidth": 1.3},
      "encoding": {"y": {"datum": 0}}}
    ]},
   {"width": 544, "height": 199,
    "title": {"text": "Ruído Branco", "orient": "right", "anchor": "middle", "offset": 10, "fontSize": 35},
    "layer": [
     {"data": {"name": "acf"},
      "mark": {"type": "line", "color": "#1f77b4", "strokeWidth": 1.1},
      "encoding": {
       "x": {"field": "lag", "type": "quantitative", "scale": {"domain": [-1.45, 30.45], "nice": false, "zero": false}, "axis": {"values": [0,5,10,15,20,25,30], "labels": false, "title": null}},
       "y": {"field": "b", "type": "quantitative", "scale": {"domain": [-0.5, 0.5], "nice": false}, "axis": {"values": [-0.5,-0.25,0,0.25,0.5], "format": ".2f", "title": null}}
      }},
     {"data": {"values": [{}]},
      "mark": {"type": "rule", "color": "black", "strokeWidth": 1.3},
      "encoding": {"y": {"datum": 0}}}
    ]},
   {"width": 544, "height": 199,
    "title": {"text": ["Reversão", "para Média"], "orient": "right", "anchor": "middle", "offset": -9, "fontSize": 35, "lineHeight": 36},
    "layer": [
     {"data": {"name": "acf"},
      "mark": {"type": "line", "color": "#1f77b4", "strokeWidth": 1.1},
      "encoding": {
       "x": {"field": "lag", "type": "quantitative", "scale": {"domain": [-1.45, 30.45], "nice": false, "zero": false}, "axis": {"values": [0,5,10,15,20,25,30], "title": "defasagens"}},
       "y": {"field": "c", "type": "quantitative", "scale": {"domain": [-0.5, 0.5], "nice": false}, "axis": {"values": [-0.5,-0.25,0,0.25,0.5], "format": ".2f", "title": null}}
      }},
     {"data": {"values": [{}]},
      "mark": {"type": "rule", "color": "black", "strokeWidth": 1.3},
      "encoding": {"y": {"datum": 0}, "x": {"datum": -1.45}, "x2": {"datum": 29.75}}}
    ]}
  ]
 }
],
"spacing": 20
}
